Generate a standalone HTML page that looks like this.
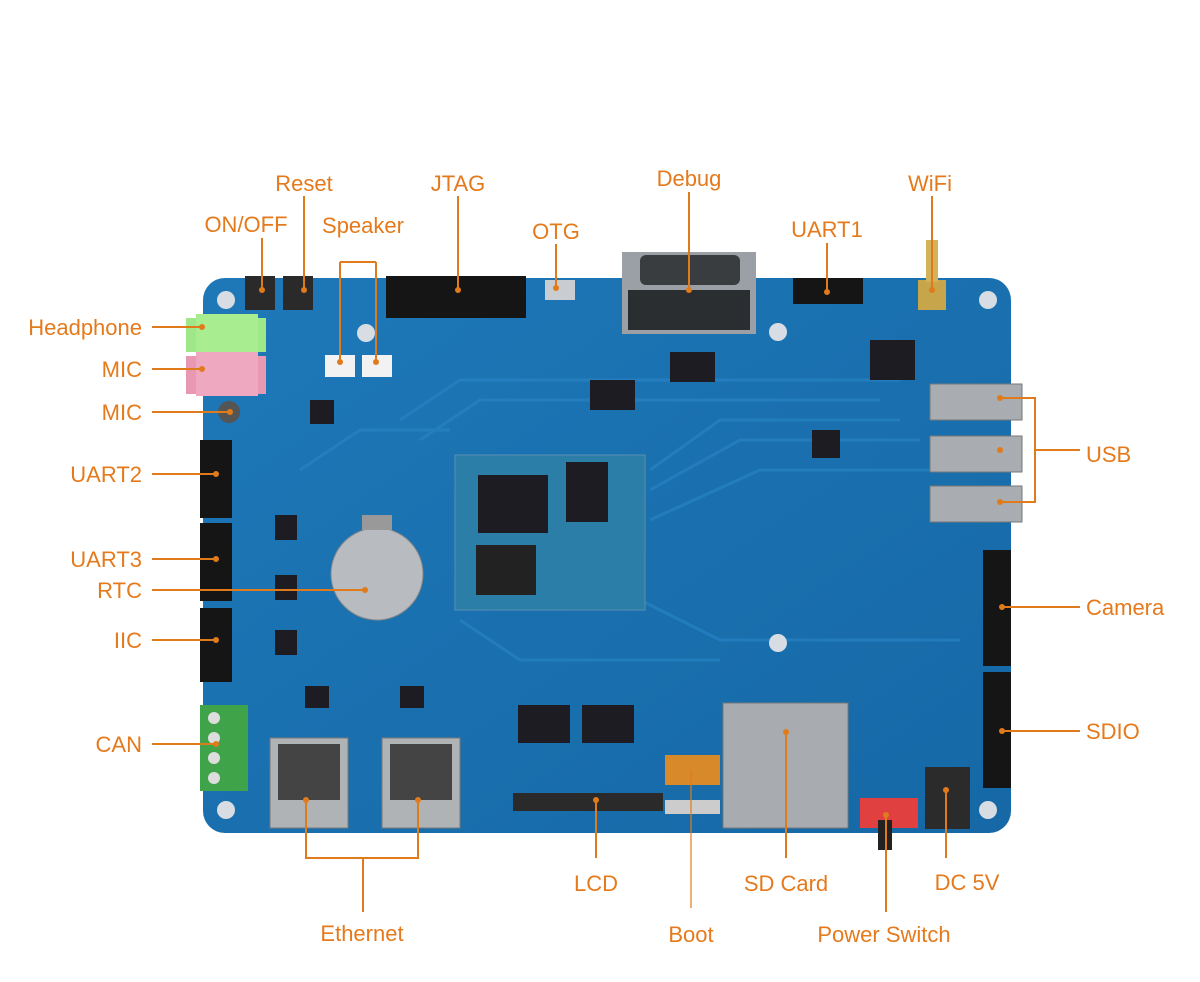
<!DOCTYPE html>
<html><head><meta charset="utf-8"><style>
html,body{margin:0;padding:0;background:#fff}
svg{display:block}
text{font-family:"Liberation Sans",sans-serif}
.l{fill:#e57a1c;font-size:22px}
</style></head><body>
<svg width="1200" height="982" viewBox="0 0 1200 982" xmlns="http://www.w3.org/2000/svg">
<defs>
<linearGradient id="b" x1="0" y1="0" x2="1" y2="1"><stop offset="0" stop-color="#1e78b8"/><stop offset="1" stop-color="#1668a6"/></linearGradient>
</defs>
<rect x="203" y="278" width="808" height="555" rx="22" fill="url(#b)"/>
<g stroke="#2a86c6" stroke-width="3" fill="none" opacity="0.6">
<path d="M400 420 L460 380 L900 380"/><path d="M420 440 L480 400 L880 400"/>
<path d="M650 470 L720 420 L900 420"/><path d="M650 490 L740 440 L920 440"/>
<path d="M650 520 L760 470 L930 470"/><path d="M460 620 L520 660 L720 660"/>
<path d="M300 470 L360 430 L450 430"/><path d="M640 600 L720 640 L960 640"/>
</g>
<g fill="#d8dde3"><circle cx="226" cy="300" r="9"/><circle cx="988" cy="300" r="9"/><circle cx="226" cy="810" r="9"/><circle cx="988" cy="810" r="9"/><circle cx="778" cy="332" r="9"/><circle cx="778" cy="643" r="9"/><circle cx="366" cy="333" r="9"/></g>
<rect x="455" y="455" width="190" height="155" fill="#2a7ea8" stroke="#5a8fb0"/>
<rect x="478" y="475" width="70" height="58" fill="#1c1c22"/>
<rect x="566" y="462" width="42" height="60" fill="#1c1c22"/>
<rect x="476" y="545" width="60" height="50" fill="#222"/>
<g fill="#1c1c22"><rect x="590" y="380" width="45" height="30"/><rect x="670" y="352" width="45" height="30"/><rect x="870" y="340" width="45" height="40"/><rect x="812" y="430" width="28" height="28"/><rect x="310" y="400" width="24" height="24"/><rect x="400" y="686" width="24" height="22"/><rect x="305" y="686" width="24" height="22"/><rect x="518" y="705" width="52" height="38"/><rect x="582" y="705" width="52" height="38"/><rect x="275" y="515" width="22" height="25"/><rect x="275" y="575" width="22" height="25"/><rect x="275" y="630" width="22" height="25"/></g>
<rect x="386" y="276" width="140" height="42" fill="#151515"/>
<rect x="793" y="278" width="70" height="26" fill="#151515"/>
<rect x="200" y="440" width="32" height="78" fill="#151515"/>
<rect x="200" y="523" width="32" height="78" fill="#151515"/>
<rect x="200" y="608" width="32" height="74" fill="#151515"/>
<rect x="983" y="550" width="28" height="116" fill="#151515"/>
<rect x="983" y="672" width="28" height="116" fill="#151515"/>
<rect x="622" y="252" width="134" height="82" fill="#9ba0a6"/>
<rect x="640" y="255" width="100" height="30" rx="6" fill="#3a3d40"/>
<rect x="628" y="290" width="122" height="40" fill="#2b2e31"/>
<rect x="545" y="280" width="30" height="20" fill="#c9ccd0"/>
<rect x="245" y="276" width="30" height="34" fill="#2a2a2a"/><rect x="283" y="276" width="30" height="34" fill="#2a2a2a"/>
<rect x="325" y="355" width="30" height="22" fill="#f2f2f2"/><rect x="362" y="355" width="30" height="22" fill="#f2f2f2"/>
<rect x="186" y="318" width="80" height="34" fill="#9ee88a"/><rect x="196" y="314" width="62" height="40" fill="#a8ee90"/>
<rect x="186" y="356" width="80" height="38" fill="#e898b0"/><rect x="196" y="352" width="62" height="44" fill="#eea8c0"/>
<circle cx="229" cy="412" r="11" fill="#555"/>
<rect x="918" y="280" width="28" height="30" fill="#c7a54a"/><rect x="926" y="240" width="12" height="42" fill="#d4b25a"/>
<g fill="#a9adb2" stroke="#777"><rect x="930" y="384" width="92" height="36"/><rect x="930" y="436" width="92" height="36"/><rect x="930" y="486" width="92" height="36"/></g>
<circle cx="377" cy="574" r="46" fill="#b8bcc0" stroke="#888"/>
<rect x="362" y="515" width="30" height="15" fill="#999"/>
<rect x="200" y="705" width="48" height="86" fill="#3fa34a"/>
<g fill="#ddd"><circle cx="214" cy="718" r="6"/><circle cx="214" cy="738" r="6"/><circle cx="214" cy="758" r="6"/><circle cx="214" cy="778" r="6"/></g>
<rect x="270" y="738" width="78" height="90" fill="#b0b3b6" stroke="#777"/>
<rect x="382" y="738" width="78" height="90" fill="#b0b3b6" stroke="#777"/>
<rect x="278" y="744" width="62" height="56" fill="#444"/><rect x="390" y="744" width="62" height="56" fill="#444"/>
<rect x="513" y="793" width="150" height="18" fill="#2a2a2a"/>
<rect x="665" y="755" width="55" height="30" fill="#d88a2a"/>
<rect x="665" y="800" width="55" height="14" fill="#ccc"/>
<rect x="723" y="703" width="125" height="125" fill="#a8acb0" stroke="#777"/>
<rect x="860" y="798" width="58" height="30" fill="#e04040"/>
<rect x="878" y="820" width="14" height="30" fill="#222"/>
<rect x="925" y="767" width="45" height="62" fill="#2b2b2b"/>
<g stroke="#e07b1c" stroke-width="2" fill="none">
<path d="M304 196 V290"/><path d="M262 238 V290"/>
<path d="M340 262 H376 M340 262 V362 M376 262 V362"/>
<path d="M458 196 V290"/><path d="M556 244 V288"/><path d="M689 192 V290"/><path d="M827 243 V292"/><path d="M932 196 V290"/>
<path d="M152 327 H202"/><path d="M152 369 H202"/><path d="M152 412 H230"/><path d="M152 474 H216"/><path d="M152 559 H216"/><path d="M152 590 H365"/><path d="M152 640 H216"/><path d="M152 744 H216"/>
<path d="M1000 398 H1035 V502 H1000 M1035 450 H1080"/><path d="M1002 607 H1080"/><path d="M1002 731 H1080"/>
<path d="M306 800 V858 H418 V800 M363 858 V912"/>
<path d="M596 800 V858"/><path d="M786 732 V858"/><path d="M886 815 V912"/><path d="M946 790 V858"/>
</g>
<path d="M691 770 V908" stroke="#e07b1c" stroke-width="1.2"/>
<g fill="#e07b1c">
<circle cx="304" cy="290" r="3"/><circle cx="262" cy="290" r="3"/><circle cx="340" cy="362" r="3"/><circle cx="376" cy="362" r="3"/><circle cx="458" cy="290" r="3"/><circle cx="556" cy="288" r="3"/><circle cx="689" cy="290" r="3"/><circle cx="827" cy="292" r="3"/><circle cx="932" cy="290" r="3"/>
<circle cx="202" cy="327" r="3"/><circle cx="202" cy="369" r="3"/><circle cx="230" cy="412" r="3"/><circle cx="216" cy="474" r="3"/><circle cx="216" cy="559" r="3"/><circle cx="365" cy="590" r="3"/><circle cx="216" cy="640" r="3"/><circle cx="216" cy="744" r="3"/>
<circle cx="1000" cy="398" r="3"/><circle cx="1000" cy="450" r="3"/><circle cx="1000" cy="502" r="3"/><circle cx="1002" cy="607" r="3"/><circle cx="1002" cy="731" r="3"/>
<circle cx="306" cy="800" r="3"/><circle cx="418" cy="800" r="3"/><circle cx="596" cy="800" r="3"/><circle cx="786" cy="732" r="3"/><circle cx="886" cy="815" r="3"/><circle cx="946" cy="790" r="3"/>
</g>
<g class="l">
<text x="304" y="191" text-anchor="middle">Reset</text>
<text x="246" y="232" text-anchor="middle">ON/OFF</text>
<text x="363" y="233" text-anchor="middle">Speaker</text>
<text x="458" y="191" text-anchor="middle">JTAG</text>
<text x="556" y="239" text-anchor="middle">OTG</text>
<text x="689" y="186" text-anchor="middle">Debug</text>
<text x="827" y="237" text-anchor="middle">UART1</text>
<text x="930" y="191" text-anchor="middle">WiFi</text>
<text x="142" y="335" text-anchor="end">Headphone</text>
<text x="142" y="377" text-anchor="end">MIC</text>
<text x="142" y="420" text-anchor="end">MIC</text>
<text x="142" y="482" text-anchor="end">UART2</text>
<text x="142" y="567" text-anchor="end">UART3</text>
<text x="142" y="598" text-anchor="end">RTC</text>
<text x="142" y="648" text-anchor="end">IIC</text>
<text x="142" y="752" text-anchor="end">CAN</text>
<text x="1086" y="462">USB</text>
<text x="1086" y="615">Camera</text>
<text x="1086" y="739">SDIO</text>
<text x="362" y="941" text-anchor="middle">Ethernet</text>
<text x="596" y="891" text-anchor="middle">LCD</text>
<text x="691" y="942" text-anchor="middle">Boot</text>
<text x="786" y="891" text-anchor="middle">SD Card</text>
<text x="884" y="942" text-anchor="middle">Power Switch</text>
<text x="967" y="890" text-anchor="middle">DC 5V</text>
</g>
</svg>
</body></html>
